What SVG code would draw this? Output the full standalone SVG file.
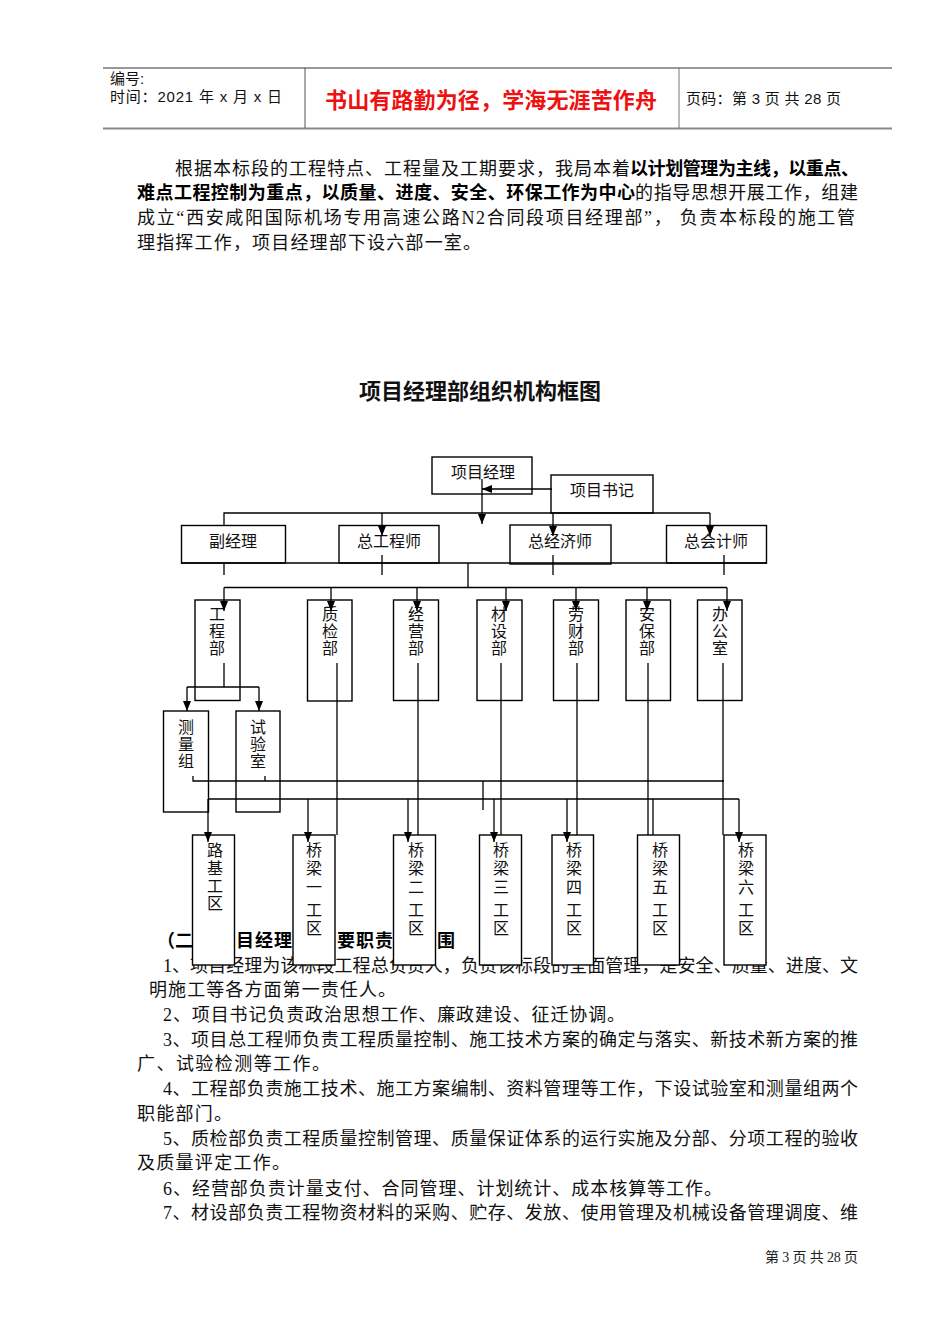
<svg xmlns="http://www.w3.org/2000/svg" width="950" height="1344" viewBox="0 0 950 1344">
<defs>
<marker id="ah" markerUnits="userSpaceOnUse" markerWidth="11" markerHeight="8" refX="10" refY="4" orient="auto"><path d="M0,0 L10,4 L0,8 z" fill="#000"/></marker>
<style>
.box{fill:#fff;stroke:#000;stroke-width:1.4}
.lbl{font-family:"Liberation Serif","Noto Sans CJK SC",serif;font-size:16px;text-anchor:middle;fill:#111}
.body{font-family:"Liberation Serif","Noto Sans CJK SC",serif;font-size:18px;fill:#111}
.bold{font-family:"Liberation Sans","Noto Sans CJK SC",sans-serif;font-size:18px;font-weight:bold;fill:#000}
.hd{font-family:"Liberation Sans","Noto Sans CJK SC",sans-serif;font-size:15px;fill:#111}
.cn{fill:none;stroke:#000;stroke-width:1.3}
.arr{marker-end:url(#ah)}
</style>
</defs>
<rect width="950" height="1344" fill="#fff"/>
<g id="header">
<line x1="103" y1="68" x2="892" y2="68" stroke="#333" stroke-width="1"/>
<line x1="103" y1="128.5" x2="892" y2="128.5" stroke="#888" stroke-width="2"/>
<line x1="305" y1="68" x2="305" y2="128" stroke="#555" stroke-width="1"/>
<line x1="679" y1="68" x2="679" y2="128" stroke="#777" stroke-width="1"/>
<text class="hd" x="110" y="84">编号:</text>
<text class="hd" x="110" y="102" textLength="172" lengthAdjust="spacing">时间：2021 年 x 月 x 日</text>
<text x="325" y="108" textLength="332" lengthAdjust="spacing" font-family="Liberation Sans,Noto Sans CJK SC,sans-serif" font-size="22" font-weight="bold" fill="#ee1111">书山有路勤为径，学海无涯苦作舟</text>
<text class="hd" x="686" y="104" textLength="155" lengthAdjust="spacing">页码：第 3 页 共 28 页</text>
</g>
<g id="intro">
<text class="body" x="175" y="175" textLength="455" lengthAdjust="spacing">根据本标段的工程特点、工程量及工期要求，我局本着</text>
<text class="bold" x="630" y="175" textLength="229" lengthAdjust="spacing">以计划管理为主线，以重点、</text>
<text class="bold" x="137" y="199" textLength="498" lengthAdjust="spacing">难点工程控制为重点，以质量、进度、安全、环保工作为中心</text>
<text class="body" x="635" y="199" textLength="223" lengthAdjust="spacing">的指导思想开展工作，组建</text>
<text class="body" x="137" y="224" textLength="718" lengthAdjust="spacing">成立“西安咸阳国际机场专用高速公路N2合同段项目经理部”， 负责本标段的施工管</text>
<text class="body" x="137" y="249" textLength="344" lengthAdjust="spacing">理指挥工作，项目经理部下设六部一室。</text>
</g>
<text id="title" x="480" y="399" text-anchor="middle" font-family="Liberation Sans,Noto Sans CJK SC,sans-serif" font-size="22" font-weight="bold" fill="#111">项目经理部组织机构框图</text>
<g id="duties">
<text class="bold" x="157" y="947" font-size="19">（二</text>
<text class="bold" x="236" y="947" font-size="19" textLength="56" lengthAdjust="spacing">目经理</text>
<text class="bold" x="337" y="947" font-size="19" textLength="56" lengthAdjust="spacing">要职责</text>
<text class="bold" x="437" y="947" font-size="19">围</text>
<text class="body" x="163" y="972" textLength="695" lengthAdjust="spacing">1、项目经理为该标段工程总负责人，负责该标段的全面管理，是安全、质量、进度、文</text>
<text class="body" x="149" y="996" textLength="247" lengthAdjust="spacing">明施工等各方面第一责任人。</text>
<text class="body" x="163" y="1021" textLength="462" lengthAdjust="spacing">2、项目书记负责政治思想工作、廉政建设、征迁协调。</text>
<text class="body" x="163" y="1046" textLength="695" lengthAdjust="spacing">3、项目总工程师负责工程质量控制、施工技术方案的确定与落实、新技术新方案的推</text>
<text class="body" x="137" y="1070" textLength="193" lengthAdjust="spacing">广、试验检测等工作。</text>
<text class="body" x="163" y="1095" textLength="695" lengthAdjust="spacing">4、工程部负责施工技术、施工方案编制、资料管理等工作，下设试验室和测量组两个</text>
<text class="body" x="137" y="1120" textLength="95" lengthAdjust="spacing">职能部门。</text>
<text class="body" x="163" y="1145" textLength="695" lengthAdjust="spacing">5、质检部负责工程质量控制管理、质量保证体系的运行实施及分部、分项工程的验收</text>
<text class="body" x="137" y="1169" textLength="153" lengthAdjust="spacing">及质量评定工作。</text>
<text class="body" x="163" y="1195" textLength="559" lengthAdjust="spacing">6、经营部负责计量支付、合同管理、计划统计、成本核算等工作。</text>
<text class="body" x="163" y="1219" textLength="695" lengthAdjust="spacing">7、材设部负责工程物资材料的采购、贮存、发放、使用管理及机械设备管理调度、维</text>
</g>
<text id="footer" x="765" y="1262" textLength="93" lengthAdjust="spacing" font-family="Liberation Serif,Noto Sans CJK SC,serif" font-size="14" fill="#222">第 3 页 共 28 页</text>

<g id="n-xmjl"><rect class="box" x="432" y="457" width="100" height="37"/><text class="lbl" x="483" y="478">项目经理</text></g>
<g id="n-xmsj"><rect class="box" x="551" y="475" width="102" height="38"/><text class="lbl" x="602" y="496">项目书记</text></g>
<g id="n-fjl"><rect class="box" x="181.5" y="525.5" width="104" height="37.5"/><text class="lbl" x="233" y="547">副经理</text></g>
<g id="n-zgcs"><rect class="box" x="339" y="525.5" width="100" height="37.5"/><text class="lbl" x="389" y="547">总工程师</text></g>
<g id="n-zjjs"><rect class="box" x="510" y="525" width="101" height="39"/><text class="lbl" x="560" y="547">总经济师</text></g>
<g id="n-zkjs"><rect class="box" x="666.5" y="525.5" width="100" height="37.5"/><text class="lbl" x="716" y="547">总会计师</text></g>

<g id="n-gcb"><rect class="box" x="195" y="600" width="45" height="100.5"/><text class="lbl"><tspan x="217" y="620">工</tspan><tspan x="217" y="637">程</tspan><tspan x="217" y="654">部</tspan></text></g>
<g id="n-zjb"><rect class="box" x="307.5" y="600" width="44.5" height="101"/><text class="lbl"><tspan x="330" y="620">质</tspan><tspan x="330" y="637">检</tspan><tspan x="330" y="654">部</tspan></text></g>
<g id="n-jyb"><rect class="box" x="393.5" y="600" width="45" height="100.5"/><text class="lbl"><tspan x="416" y="620">经</tspan><tspan x="416" y="637">营</tspan><tspan x="416" y="654">部</tspan></text></g>
<g id="n-csb"><rect class="box" x="477" y="600" width="45" height="100.5"/><text class="lbl"><tspan x="499" y="620">材</tspan><tspan x="499" y="637">设</tspan><tspan x="499" y="654">部</tspan></text></g>
<g id="n-lcb"><rect class="box" x="553.5" y="600" width="45" height="100.5"/><text class="lbl"><tspan x="576" y="620">劳</tspan><tspan x="576" y="637">财</tspan><tspan x="576" y="654">部</tspan></text></g>
<g id="n-abb"><rect class="box" x="626" y="600" width="44.5" height="100.5"/><text class="lbl"><tspan x="647" y="620">安</tspan><tspan x="647" y="637">保</tspan><tspan x="647" y="654">部</tspan></text></g>
<g id="n-bgs"><rect class="box" x="697.5" y="600" width="44.5" height="100.5"/><text class="lbl"><tspan x="720" y="620">办</tspan><tspan x="720" y="637">公</tspan><tspan x="720" y="654">室</tspan></text></g>

<g id="n-clz"><rect class="box" x="163.5" y="711" width="45" height="101"/><text class="lbl"><tspan x="186" y="733">测</tspan><tspan x="186" y="750">量</tspan><tspan x="186" y="767">组</tspan></text></g>
<g id="n-sys"><rect class="box" x="236" y="711" width="44" height="101"/><text class="lbl"><tspan x="258" y="733">试</tspan><tspan x="258" y="750">验</tspan><tspan x="258" y="767">室</tspan></text></g>

<g id="n-ljgq"><rect class="box" x="192.5" y="835" width="42" height="130"/><text class="lbl"><tspan x="215" y="856">路</tspan><tspan x="215" y="874">基</tspan><tspan x="215" y="892">工</tspan><tspan x="215" y="909">区</tspan></text></g>
<g id="n-ql1"><rect class="box" x="293" y="835" width="42" height="130"/><text class="lbl"><tspan x="314" y="856">桥</tspan><tspan x="314" y="874">梁</tspan><tspan x="314" y="893">一</tspan><tspan x="314" y="916">工</tspan><tspan x="314" y="934">区</tspan></text></g>
<g id="n-ql2"><rect class="box" x="393.5" y="835" width="42" height="130"/><text class="lbl"><tspan x="416" y="856">桥</tspan><tspan x="416" y="874">梁</tspan><tspan x="416" y="893">二</tspan><tspan x="416" y="916">工</tspan><tspan x="416" y="934">区</tspan></text></g>
<g id="n-ql3"><rect class="box" x="479.5" y="835" width="42" height="130"/><text class="lbl"><tspan x="501" y="856">桥</tspan><tspan x="501" y="874">梁</tspan><tspan x="501" y="893">三</tspan><tspan x="501" y="916">工</tspan><tspan x="501" y="934">区</tspan></text></g>
<g id="n-ql4"><rect class="box" x="552" y="835" width="41.5" height="130"/><text class="lbl"><tspan x="574" y="856">桥</tspan><tspan x="574" y="874">梁</tspan><tspan x="574" y="893">四</tspan><tspan x="574" y="916">工</tspan><tspan x="574" y="934">区</tspan></text></g>
<g id="n-ql5"><rect class="box" x="637.5" y="835" width="42" height="130"/><text class="lbl"><tspan x="660" y="856">桥</tspan><tspan x="660" y="874">梁</tspan><tspan x="660" y="893">五</tspan><tspan x="660" y="916">工</tspan><tspan x="660" y="934">区</tspan></text></g>
<g id="n-ql6"><rect class="box" x="724" y="835" width="42" height="130"/><text class="lbl"><tspan x="746" y="856">桥</tspan><tspan x="746" y="874">梁</tspan><tspan x="746" y="893">六</tspan><tspan x="746" y="916">工</tspan><tspan x="746" y="934">区</tspan></text></g>

<g id="connectors">
<path class="cn arr" d="M552 489 H482"/>
<path class="cn arr" d="M482 479 V524"/>
<path class="cn" d="M224 525 V513 H710"/>
<path class="cn arr" d="M382 513 V536"/>
<path class="cn arr" d="M553 513 V536"/>
<path class="cn arr" d="M710 513 V536"/>
<path class="cn" d="M181 563 H767"/>
<path class="cn" d="M224 563 V575 M382 555 V575 M553 555 V575 M724 555 V575"/>
<path class="cn" d="M468 563 V587.5 M224 587.5 H727"/>
<path class="cn arr" d="M224 587.5 V611"/>
<path class="cn arr" d="M331 587.5 V611"/>
<path class="cn arr" d="M417 587.5 V611"/>
<path class="cn arr" d="M506 587.5 V611"/>
<path class="cn arr" d="M576 587.5 V611"/>
<path class="cn arr" d="M647 587.5 V611"/>
<path class="cn arr" d="M727 587.5 V611"/>
<path class="cn" d="M224 663 V687 M187 687 H259"/>
<path class="cn arr" d="M187 687 V711"/>
<path class="cn arr" d="M259 687 V711"/>
<path class="cn" d="M337 663 V835 M418 663 V835 M501 663 V835 M577 663 V835 M648 663 V835 M723 663 V835"/>
<path class="cn" d="M193 776 V781 H724 M265 776 V781 M483 781 V810"/>
<path class="cn" d="M208 799 H739 M653 799 V835"/>
<path class="cn arr" d="M208 799 V842"/>
<path class="cn arr" d="M308 799 V842"/>
<path class="cn arr" d="M408 799 V842"/>
<path class="cn arr" d="M494 799 V842"/>
<path class="cn arr" d="M567 799 V842"/>
<path class="cn arr" d="M739 799 V842"/>
</g>
</svg>
